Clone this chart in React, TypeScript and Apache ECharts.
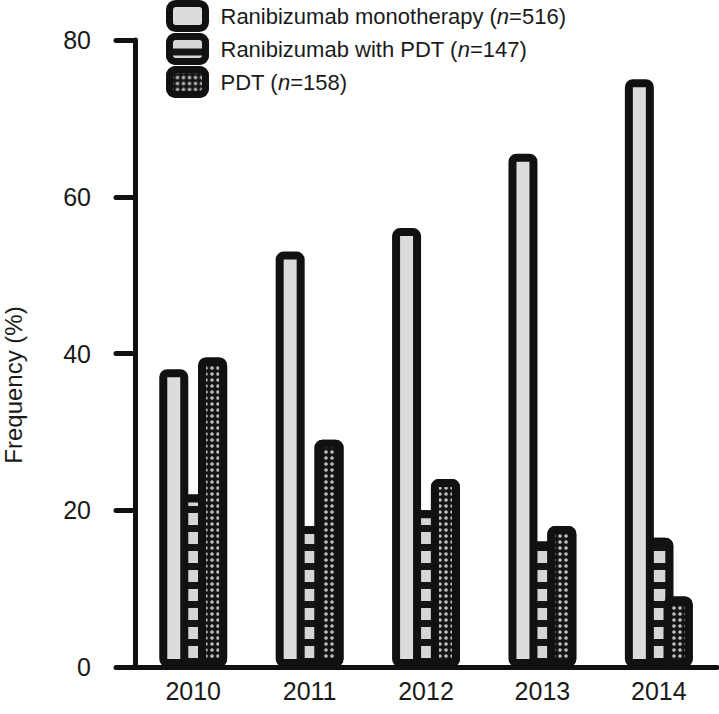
import React, { useEffect, useRef } from "react";
import * as echarts from "echarts";

const categories = ["2010", "2011", "2012", "2013", "2014"];
const seriesNames = ["Ranibizumab monotherapy", "Ranibizumab with PDT", "PDT"];
const nValues = [516, 147, 158];
const monotherapy = [38, 53, 56, 65.5, 75];
const withPdt = [22, 18, 20, 16, 16.5];
const pdtOnly = [39.5, 29, 24, 18, 9];
const yTicks = { min: 0, max: 80, interval: 20 };

const FONT = "'Liberation Sans', Arial, Helvetica, sans-serif";
const INK = "#111111";

export default function App() {
  const ref = useRef<HTMLDivElement>(null);

  useEffect(() => {
    if (!ref.current) return;
    const chart = echarts.init(ref.current, null, { renderer: "svg" });
    const baseBar = {
      type: "bar" as const,
      barWidth: 29,
      barGap: "-33%",
    };
    chart.setOption({
      animation: false,
      backgroundColor: "#ffffff",
      textStyle: { fontFamily: FONT },
      grid: { left: 135, right: 2, top: 40, bottom: 47, containLabel: false },
      legend: {
        orient: "vertical",
        left: 166,
        top: 0,
        padding: 0,
        itemWidth: 36,
        itemHeight: 25,
        itemGap: 1,
        selectedMode: false,
        itemStyle: { borderWidth: 7, borderColor: INK },
        data: seriesNames,
        formatter: (name: string) => {
          const i = seriesNames.indexOf(name);
          return `{t|${name} (}{i|n}{t|=${nValues[i]})}`;
        },
        textStyle: {
          padding: [0, 0, 0, 10],
          rich: {
            t: { fontSize: 22, color: "#1a1a1a", fontFamily: FONT },
            i: { fontSize: 22, color: "#1a1a1a", fontFamily: FONT, fontStyle: "italic" },
          },
        },
      },
      xAxis: {
        type: "category",
        data: categories,
        boundaryGap: true,
        axisLine: { show: true, lineStyle: { color: INK, width: 5, cap: "round" } },
        axisTick: { show: false },
        axisLabel: { fontSize: 25, color: "#1a1a1a", margin: 11, fontFamily: FONT },
      },
      yAxis: {
        type: "value",
        min: yTicks.min,
        max: yTicks.max,
        interval: yTicks.interval,
        splitLine: { show: false },
        axisLine: { show: true, lineStyle: { color: INK, width: 5, cap: "round" } },
        axisTick: { show: true, inside: false, length: 19, lineStyle: { color: INK, width: 5, cap: "round" } },
        axisLabel: { fontSize: 25, color: "#1a1a1a", margin: 44, fontFamily: FONT },
      },
      graphic: [
        {
          type: "text",
          x: 13,
          y: 385,
          rotation: Math.PI / 2,
          style: {
            text: "Frequency (%)",
            fontSize: 24,
            fontFamily: FONT,
            fill: "#1a1a1a",
            align: "center",
            verticalAlign: "middle",
          },
        },
      ],
      series: [
        {
          ...baseBar,
          name: seriesNames[0],
          data: monotherapy,
          z: 4,
          itemStyle: { color: "#dcdcdc", borderColor: INK, borderWidth: 8, borderRadius: 4 },
        },
        {
          ...baseBar,
          name: seriesNames[1],
          data: withPdt,
          z: 2,
          itemStyle: {
            color: "#151515",
            borderColor: INK,
            borderWidth: 8,
            borderRadius: 4,
            decal: {
              symbol: "rect",
              symbolSize: 1,
              symbolKeepAspect: false,
              color: "#d6d6d6",
              dashArrayX: [8, 0],
              dashArrayY: [12, 7],
            },
          },
        },
        {
          ...baseBar,
          name: seriesNames[2],
          data: pdtOnly,
          z: 3,
          itemStyle: {
            color: "#151515",
            borderColor: INK,
            borderWidth: 8,
            borderRadius: 4,
            decal: {
              symbol: "circle",
              symbolSize: 0.9,
              color: "#bdbdbd",
              dashArrayX: [4, 2],
              dashArrayY: [4, 2],
            },
          },
        },
      ],
    });
    return () => chart.dispose();
  }, []);

  return (
    <div
      ref={ref}
      style={{ position: "absolute", left: 0, top: 0, width: 719, height: 714 }}
    />
  );
}
